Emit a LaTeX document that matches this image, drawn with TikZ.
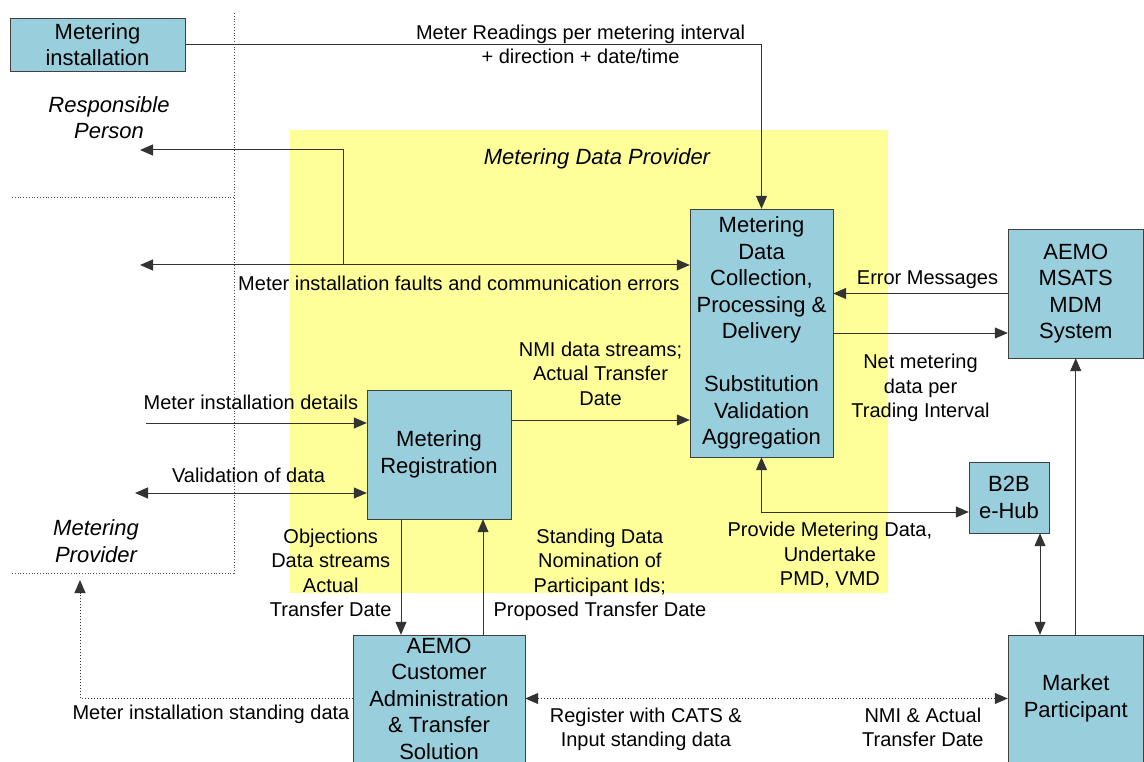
\documentclass[tikz,border=0pt]{standalone}
\usepackage{fontspec}
\setmainfont{Liberation Sans}
\usetikzlibrary{positioning,calc,arrows.meta}
\definecolor{boxblue}{RGB}{153,206,220}
\definecolor{mdpyellow}{RGB}{255,255,153}
\newcommand*{\lbl}{\fontsize{20}{24.5}\selectfont}
\newcommand*{\bxf}{\fontsize{22}{26.5}\selectfont}
\tikzset{
  unit/.style={draw=black!75, fill=boxblue, align=center, inner sep=2pt, font=\bxf},
  flow/.style={draw=black!80, line width=1pt, -{Triangle[length=13pt,width=11pt]}},
  dflow/.style={flow, {Triangle[length=13pt,width=11pt]}-{Triangle[length=13pt,width=11pt]}},
  txt/.style={align=center, font=\lbl, inner sep=4pt},
  role/.style={align=center, font=\bxf\itshape},
  border/.style={dotted, draw=black!70, line width=0.8pt}
}

\begin{document}
\begin{tikzpicture}[x=1pt,y=-1pt]
\useasboundingbox (0,0) rectangle (1144,762);
% Metering Data Provider area
\fill[mdpyellow] (290,130) rectangle (888,593);
\node[role] (mdplbl) at (597,159) {Metering Data Provider};
% Responsible Person / Metering Provider borders
\draw[border] (234,13) -- (234,573) -- (10,573);
\draw[border] (12,197) -- (234,197);
\node[role] (rp) at (109,117.5) {Responsible\\Person};
\node[role] (mprov) at (96,541) {Metering\\Provider};
% Boxes
\node[unit, minimum width=175pt, minimum height=53pt] (mi) at (97.5,44.5) {Metering\\installation};
\node[unit, minimum width=143pt, minimum height=248pt] (mdp) at (761.5,333)
  {Metering\\Data\\Collection,\\Processing \&\\Delivery\\[26.5pt]Substitution\\Validation\\Aggregation};
\node[unit, minimum width=144pt, minimum height=129pt] (reg) at (439,454.5) {Metering\\Registration};
\node[unit, minimum width=135.5pt, minimum height=129pt] (msats) at (1075.75,293.5) {AEMO\\MSATS\\MDM\\System};
\node[unit, minimum width=80pt, minimum height=71pt] (b2b) at (1009,497.5) {B2B\\e-Hub};
\node[unit, minimum width=172pt, minimum height=127pt] (cats) at (439,698.5)
  {AEMO\\Customer\\Administration\\\& Transfer\\Solution};
\node[unit, minimum width=135.5pt, minimum height=127pt] (mp) at (1075.75,698.5) {Market\\Participant};
% Free ends on the left
\coordinate (rpo) at (140,150);
\coordinate (rpf) at (140,265);
\coordinate (rpj) at (343,265);
\coordinate (mpd) at (146,423);
\coordinate (mpv) at (135,493);
\coordinate (mpsd) at (80,580);
% Connectors
\draw[flow] (mi.east) -| node[txt, pos=0.343] {Meter Readings per metering interval\\+ direction + date/time} (mdp.north);
\draw[dflow] (rpf) -- node[txt, pos=0.58, below, yshift=-7pt] {Meter installation faults and communication errors} (rpf -| mdp.west);
\draw[flow] (rpj) |- (rpo);
\draw[flow] (msats.west) -- node[txt, pos=0.46, above] {Error Messages} (msats.west -| mdp.east);
\draw[flow] (mdp.east) -- node[txt, below, yshift=-17pt] {Net metering\\data per\\Trading Interval} (mdp.east -| msats.west);
\draw[flow] (mp.north) -- (msats.south);
\draw[dflow] (mdp.south) |- node[txt, pos=0.665, below, yshift=-6pt] {Provide Metering Data,\\Undertake\\PMD, VMD} ([yshift=-14.5pt]b2b.west);
\draw[dflow] ([xshift=31pt]b2b.south) -- ([xshift=31pt]b2b.south |- mp.north);
\draw[flow] ([yshift=34.5pt]reg.east) -- node[txt, above, yshift=10pt] {NMI data streams;\\Actual Transfer\\Date} ([yshift=34.5pt]reg.east -| mdp.west);
\draw[flow] (mpd) -- node[txt, pos=0.475, above, yshift=9pt] {Meter installation details} (mpd -| reg.west);
\draw[dflow] (mpv) -- node[txt, pos=0.49, above, yshift=6pt] {Validation of data} (mpv -| reg.west);
\draw[flow] ([xshift=-38pt]reg.south) -- node[txt, left, xshift=-5pt, yshift=4pt] {Objections\\Data streams\\Actual\\Transfer Date} ([xshift=-38pt]reg.south |- cats.north);
\draw[flow] ([xshift=44pt]reg.south |- cats.north) -- node[txt, right, xshift=6pt, yshift=2pt] {Standing Data\\Nomination of\\Participant Ids;\\Proposed Transfer Date} ([xshift=44pt]reg.south);
\draw[dflow, dotted] (cats.east) -- node[txt, pos=0.25, below, yshift=-5pt] {Register with CATS \&\\Input standing data}
  node[txt, pos=0.824, below, yshift=-5pt] {NMI \& Actual\\Transfer Date} (mp.west);
\draw[flow, dotted] (cats.west) -| node[txt, pos=0.26, below, yshift=-2pt] {Meter installation standing data} (mpsd);
\end{tikzpicture}
\end{document}
